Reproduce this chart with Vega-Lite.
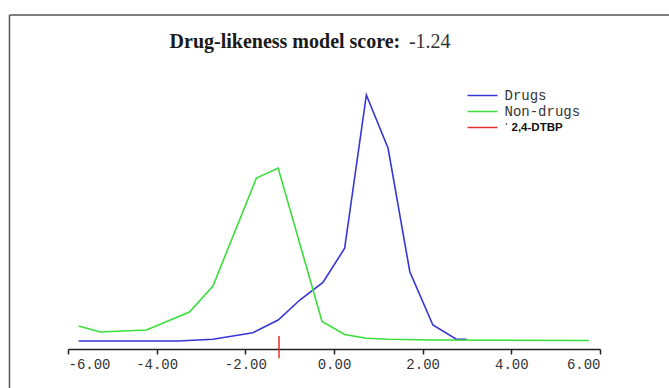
{
  "$schema": "https://vega.github.io/schema/vega-lite/v6.json",
  "width": 532,
  "height": 300,
  "autosize": {"type": "none"},
  "padding": {"left": 68, "top": 41, "right": 69, "bottom": 47},
  "background": "white",
  "config": {"view": {"stroke": null}},
  "datasets": {
    "curves": [
      {"series": "Drugs", "score": -5.76, "density": 0},
      {"series": "Drugs", "score": -3.52, "density": 0},
      {"series": "Drugs", "score": -2.73, "density": 1.7},
      {"series": "Drugs", "score": -1.83, "density": 8.3},
      {"series": "Drugs", "score": -1.26, "density": 21},
      {"series": "Drugs", "score": -0.77, "density": 41},
      {"series": "Drugs", "score": -0.25, "density": 58.5},
      {"series": "Drugs", "score": 0.24, "density": 92.7},
      {"series": "Drugs", "score": 0.73, "density": 246},
      {"series": "Drugs", "score": 1.22, "density": 192.7},
      {"series": "Drugs", "score": 1.71, "density": 69.3},
      {"series": "Drugs", "score": 2.23, "density": 16},
      {"series": "Drugs", "score": 2.76, "density": 1.7},
      {"series": "Drugs", "score": 2.99, "density": 1.7},
      {"series": "Non-drugs", "score": -5.76, "density": 15},
      {"series": "Non-drugs", "score": -5.27, "density": 9},
      {"series": "Non-drugs", "score": -4.23, "density": 11},
      {"series": "Non-drugs", "score": -3.26, "density": 29},
      {"series": "Non-drugs", "score": -2.73, "density": 55},
      {"series": "Non-drugs", "score": -1.75, "density": 163},
      {"series": "Non-drugs", "score": -1.26, "density": 173},
      {"series": "Non-drugs", "score": -0.27, "density": 19.5},
      {"series": "Non-drugs", "score": 0.24, "density": 6.5},
      {"series": "Non-drugs", "score": 0.73, "density": 2.7},
      {"series": "Non-drugs", "score": 1.22, "density": 1.8},
      {"series": "Non-drugs", "score": 2.23, "density": 1},
      {"series": "Non-drugs", "score": 5.75, "density": 0.5}
    ],
    "marker": [{"series": "2,4-DTBP", "score": -1.24}],
    "heading": [{"label": "Drug-likeness model score:"}],
    "note": [{"label": "-1.24"}]
  },
  "layer": [
    {
      "data": {"name": "curves"},
      "mark": {"type": "line", "strokeWidth": 1.6},
      "encoding": {
        "x": {
          "field": "score",
          "type": "quantitative",
          "scale": {"domain": [-6, 6], "nice": false, "zero": false},
          "axis": {
            "title": null,
            "values": [-6, -4, -2, 0, 2, 4, 6],
            "format": ".2f",
            "labelExpr": "replace(datum.label, '\u2212', '-')",
            "offset": 8,
            "grid": false,
            "domainColor": "#222222",
            "domainWidth": 1.5,
            "tickColor": "#222222",
            "tickWidth": 1.5,
            "tickSize": 5,
            "labelFont": "Liberation Mono",
            "labelFontSize": 14,
            "labelColor": "#333333",
            "labelPadding": 3
          }
        },
        "y": {
          "field": "density",
          "type": "quantitative",
          "scale": {"domain": [0, 300], "nice": false},
          "axis": null
        },
        "color": {
          "field": "series",
          "type": "nominal",
          "scale": {
            "domain": ["Drugs", "Non-drugs", "2,4-DTBP"],
            "range": ["#3535d8", "#3ade3a", "#e83030"]
          },
          "legend": {
            "title": null,
            "orient": "none",
            "legendX": 406,
            "legendY": 46,
            "padding": 0,
            "rowPadding": -1.5,
            "symbolType": "M-2,0H2",
            "symbolSize": 225,
            "symbolStrokeWidth": 1.5,
            "symbolFillColor": "transparent",
            "labelFont": "Liberation Mono",
            "labelFontSize": 14,
            "labelColor": "#333333",
            "labelOffset": 13.5,
            "labelExpr": "datum.value == '2,4-DTBP' ? '\u02c8 2,4-DTBP' : datum.label",
            "encode": {
              "labels": {
                "update": {
                  "font": {"signal": "datum.value == '2,4-DTBP' ? 'Liberation Sans' : 'Liberation Mono'"},
                  "fontWeight": {"signal": "datum.value == '2,4-DTBP' ? 'bold' : 'normal'"},
                  "fontSize": {"signal": "datum.value == '2,4-DTBP' ? 11.5 : 14"},
                  "fill": {"signal": "datum.value == '2,4-DTBP' ? '#111111' : '#333333'"}
                }
              }
            }
          }
        }
      }
    },
    {
      "data": {"name": "marker"},
      "mark": {"type": "rule", "strokeWidth": 1.5},
      "encoding": {
        "x": {"field": "score", "type": "quantitative"},
        "y": {"datum": 5, "type": "quantitative"},
        "y2": {"datum": -17.3},
        "color": {"field": "series", "type": "nominal"}
      }
    },
    {
      "data": {"name": "heading"},
      "mark": {
        "type": "text",
        "align": "left",
        "baseline": "alphabetic",
        "font": "Liberation Serif",
        "fontSize": 20,
        "fontWeight": "bold",
        "color": "#1a1a1a"
      },
      "encoding": {
        "x": {"datum": -3.709, "type": "quantitative"},
        "y": {"datum": 293.3, "type": "quantitative"},
        "text": {"field": "label", "type": "nominal"}
      }
    },
    {
      "data": {"name": "note"},
      "mark": {
        "type": "text",
        "align": "left",
        "baseline": "alphabetic",
        "font": "Liberation Serif",
        "fontSize": 20,
        "color": "#333333"
      },
      "encoding": {
        "x": {"datum": 1.69, "type": "quantitative"},
        "y": {"datum": 293.3, "type": "quantitative"},
        "text": {"field": "label", "type": "nominal"}
      }
    },
    {
      "data": {"name": "marker"},
      "mark": {"type": "rule", "color": "#555555", "strokeWidth": 1.5},
      "encoding": {
        "x": {"datum": -7.32, "type": "quantitative"},
        "y": {"datum": 326, "type": "quantitative"},
        "y2": {"datum": -80}
      }
    },
    {
      "data": {"name": "marker"},
      "mark": {"type": "rule", "color": "#555555", "strokeWidth": 1.5},
      "encoding": {
        "x": {"datum": -7.32, "type": "quantitative"},
        "x2": {"datum": 9},
        "y": {"datum": 326, "type": "quantitative"}
      }
    }
  ]
}
